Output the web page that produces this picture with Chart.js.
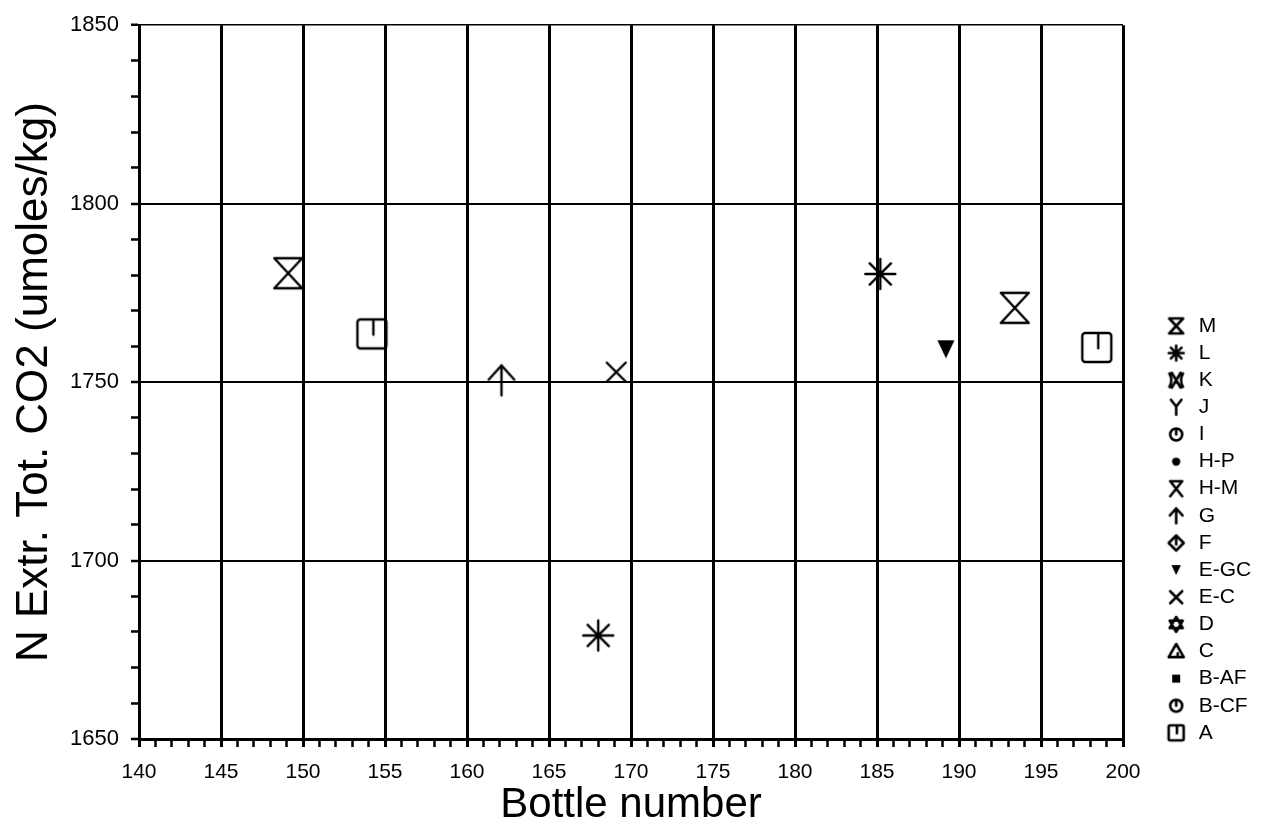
<!DOCTYPE html>
<html>
<head>
<meta charset="utf-8">
<script src="https://cdn.jsdelivr.net/npm/chart.js@4.4.0/dist/chart.umd.min.js"></script>
<style>
html, body { margin: 0; padding: 0; background: #fff; }
</style>
</head>
<body>
<canvas id="chart" width="1270" height="835"></canvas>
<script>
// key entries, top to bottom
var seriesNames = ["M", "L", "K", "J", "I", "H-P", "H-M", "G", "F", "E-GC", "E-C", "D", "C", "B-AF", "B-CF", "A"];

// values (bottle number, umoles/kg)
var bottleM = [149.1, 193.4];
var co2M = [1780.5, 1770.8];
var bottleL = [168.0, 185.2];
var co2L = [1679.0, 1780.3];
var bottleG = [162.1];
var co2G = [1750.5];
var bottleEGC = [189.2];
var co2EGC = [1759.2];
var bottleEC = [169.1];
var co2EC = [1752.8];
var bottleA = [154.2, 198.4];
var co2A = [1763.5, 1759.7];

var xTickLabels = [140, 145, 150, 155, 160, 165, 170, 175, 180, 185, 190, 195, 200];
var yTickLabels = [1650, 1700, 1750, 1800, 1850];

var seriesData = {
    "M": [bottleM, co2M],
    "L": [bottleL, co2L],
    "G": [bottleG, co2G],
    "E-GC": [bottleEGC, co2EGC],
    "E-C": [bottleEC, co2EC],
    "A": [bottleA, co2A]
};

Chart.defaults.font.family = '"Liberation Sans", Arial, sans-serif';
Chart.defaults.color = "#000";

function makeMarker(name, r, lw){
    var pad = Math.ceil(lw) + 2;
    var s = Math.ceil(2 * r + 2 * pad);
    var cv = document.createElement("canvas");
    cv.width = s;
    cv.height = s;
    var c = cv.getContext("2d");
    c.translate(s / 2, s / 2);
    c.strokeStyle = "#000";
    c.fillStyle = "#000";
    c.lineWidth = lw;
    c.lineJoin = "round";
    c.lineCap = "round";
    c.beginPath();
    switch(name){
        case "M":
            c.moveTo(-r * 0.93, -r); c.lineTo(r * 0.93, -r);
            c.lineTo(-r * 0.93, r); c.lineTo(r * 0.93, r);
            c.closePath(); c.stroke();
            break;
        case "L":
            for(var a = 0; a < 4; a++){
                var ang = a * Math.PI / 4;
                c.moveTo(-r * Math.cos(ang), -r * Math.sin(ang));
                c.lineTo(r * Math.cos(ang), r * Math.sin(ang));
            }
            c.stroke();
            break;
        case "K":
            c.moveTo(-r * 0.6, -r); c.lineTo(r * 0.6, r);
            c.moveTo(r * 0.6, -r); c.lineTo(-r * 0.6, r);
            c.moveTo(-r * 0.9, -r * 0.9); c.quadraticCurveTo(-r * 0.4, 0, -r * 0.9, r * 0.9);
            c.moveTo(r * 0.9, -r * 0.9); c.quadraticCurveTo(r * 0.4, 0, r * 0.9, r * 0.9);
            c.stroke();
            break;
        case "J":
            c.moveTo(-r * 0.7, -r); c.lineTo(0, -r * 0.1); c.lineTo(r * 0.7, -r);
            c.moveTo(0, -r * 0.1); c.lineTo(0, r);
            c.stroke();
            break;
        case "I":
        case "B-CF":
            c.arc(0, 0, r * 0.8, 0, Math.PI * 2);
            c.moveTo(0, -r * 0.8); c.lineTo(0, 0);
            c.stroke();
            break;
        case "H-P":
            c.arc(0, 0, r * 0.55, 0, Math.PI * 2);
            c.fill();
            break;
        case "H-M":
            c.moveTo(-r * 0.8, -r); c.lineTo(r * 0.8, -r);
            c.moveTo(-r * 0.8, -r); c.lineTo(r * 0.8, r);
            c.moveTo(r * 0.8, -r); c.lineTo(-r * 0.8, r);
            c.stroke();
            break;
        case "G":
            c.moveTo(-r * 0.85, -r * 0.05); c.lineTo(0, -r); c.lineTo(r * 0.85, -r * 0.05);
            c.moveTo(0, -r); c.lineTo(0, r);
            c.stroke();
            break;
        case "F":
            c.moveTo(0, -r); c.lineTo(r, 0); c.lineTo(0, r); c.lineTo(-r, 0); c.closePath();
            c.moveTo(0, -r); c.lineTo(0, r * 0.2);
            c.stroke();
            break;
        case "E-GC":
            c.moveTo(-r * 0.95, -r); c.lineTo(r * 0.95, -r); c.lineTo(0, r);
            c.closePath(); c.fill();
            break;
        case "E-C":
            c.moveTo(-r, -r); c.lineTo(r, r);
            c.moveTo(r, -r); c.lineTo(-r, r);
            c.stroke();
            break;
        case "D":
            c.moveTo(0, -r); c.lineTo(r * 0.87, r * 0.5); c.lineTo(-r * 0.87, r * 0.5); c.closePath();
            c.moveTo(0, r); c.lineTo(r * 0.87, -r * 0.5); c.lineTo(-r * 0.87, -r * 0.5); c.closePath();
            c.stroke();
            break;
        case "C":
            c.moveTo(0, -r); c.lineTo(r, r * 0.75); c.lineTo(-r, r * 0.75); c.closePath();
            c.moveTo(r * 0.2, r * 0.75); c.lineTo(r * 0.2, r * 0.25);
            c.stroke();
            break;
        case "B-AF":
            c.rect(-r * 0.5, -r * 0.5, r, r);
            c.fill();
            break;
        case "A":
            c.roundRect(-r, -r, 2 * r, 2 * r, r * 0.2);
            c.moveTo(r * 0.1, -r); c.lineTo(r * 0.1, r * 0.05);
            c.stroke();
            break;
    }
    return cv;
}

// marker sizes on the plot
var plotMarkerSize = { "M": 15, "L": 15, "G": 15, "E-GC": 9, "E-C": 9.5, "A": 14.5 };
// some key symbols are drawn smaller than the rest
var keyMarkerSize = { "E-GC": 5, "E-C": 6, "B-AF": 8 };

var keyMarkers = {};
seriesNames.forEach(function(n){ keyMarkers[n] = makeMarker(n, keyMarkerSize[n] || 7.5, 2.6); });

var datasets = seriesNames.map(function(n){
    var d = seriesData[n];
    var pts = [];
    if(d){
        for(var i = 0; i < d[0].length; i++){
            pts.push({ x: d[0][i], y: d[1][i] });
        }
    }
    return {
        label: n,
        data: pts,
        showLine: false,
        pointStyle: d ? makeMarker(n, plotMarkerSize[n], 2.4) : "circle",
        pointRadius: 15,
        pointHoverRadius: 15,
        borderColor: "#000",
        backgroundColor: "#000"
    };
});

// place the key to the right of the plot
var keyBoxWidth = 147;
var keyShiftX = 35;
var keyShiftY = 10.5;
var keyPlacement = {
    id: "keyPlacement",
    beforeLayout: function(chart){
        var lg = chart.legend;
        if(lg && !lg._fitPatched){
            var fit = lg.fit;
            lg.fit = function(){
                fit.call(this);
                this.width = keyBoxWidth;
            };
            lg._fitPatched = true;
        }
    },
    afterLayout: function(chart){
        var lg = chart.legend;
        lg.left += keyShiftX; lg.right += keyShiftX;
        lg.top += keyShiftY; lg.bottom += keyShiftY;
    }
};

function isMajor(v, step){
    return Math.abs(Math.round(v) % step) === 0;
}

var chart = new Chart(document.getElementById("chart"), {
    type: "scatter",
    data: { datasets: datasets },
    plugins: [keyPlacement],
    options: {
        responsive: false,
        devicePixelRatio: 1,
        animation: false,
        layout: { padding: { top: 20, left: 0, right: 0, bottom: 0 } },
        plugins: {
            tooltip: { enabled: false },
            legend: {
                position: "right",
                align: "end",
                fullSize: false,
                labels: {
                    usePointStyle: true,
                    pointStyleWidth: 24,
                    boxWidth: 24,
                    padding: 6.13,
                    color: "#000",
                    font: { size: 21 },
                    generateLabels: function(chart){
                        return seriesNames.map(function(n, i){
                            return {
                                text: n,
                                pointStyle: keyMarkers[n],
                                fillStyle: "#000",
                                strokeStyle: "#000",
                                lineWidth: 0,
                                hidden: false,
                                datasetIndex: i,
                                fontColor: "#000"
                            };
                        });
                    }
                }
            }
        },
        scales: {
            x: {
                type: "linear",
                min: 140,
                max: 200,
                afterFit: function(s){ s.height = 96; },
                ticks: {
                    stepSize: 1,
                    autoSkip: false,
                    maxRotation: 0,
                    padding: 13,
                    font: { size: 21 },
                    color: "#000",
                    callback: function(v){
                        return xTickLabels.indexOf(Math.round(v)) >= 0 && isMajor(v, 5) ? String(Math.round(v)) : "";
                    }
                },
                grid: {
                    drawTicks: true,
                    tickLength: 8,
                    color: function(ctx){ return ctx.tick && isMajor(ctx.tick.value, 5) ? "#000" : "rgba(0,0,0,0)"; },
                    lineWidth: function(ctx){ return ctx.tick && isMajor(ctx.tick.value, 5) ? 3 : 1; },
                    tickColor: "#000",
                    tickWidth: function(ctx){ return ctx.tick && isMajor(ctx.tick.value, 5) ? 3 : 2.5; }
                },
                border: { display: true, color: "#000", width: 3 },
                title: {
                    display: true,
                    text: "Bottle number",
                    color: "#000",
                    font: { size: 42, lineHeight: 1 },
                    padding: { top: 0, bottom: 9 }
                }
            },
            y: {
                type: "linear",
                min: 1650,
                max: 1850,
                afterFit: function(s){ s.width = 139; },
                ticks: {
                    stepSize: 10,
                    autoSkip: false,
                    padding: 12,
                    font: { size: 22 },
                    color: "#000",
                    callback: function(v){
                        return yTickLabels.indexOf(Math.round(v)) >= 0 ? String(Math.round(v)) : "";
                    }
                },
                grid: {
                    drawTicks: true,
                    tickLength: 8,
                    color: function(ctx){ return ctx.tick && isMajor(ctx.tick.value, 50) ? "#000" : "rgba(0,0,0,0)"; },
                    lineWidth: function(ctx){
                        if(!ctx.tick) return 1;
                        if(Math.round(ctx.tick.value) === 1850) return 1.5;
                        return isMajor(ctx.tick.value, 50) ? 2 : 1;
                    },
                    tickColor: "#000",
                    tickWidth: 2.5
                },
                border: { display: true, color: "#000", width: 3 },
                title: {
                    display: true,
                    text: "N Extr. Tot. CO2 (umoles/kg)",
                    color: "#000",
                    font: { size: 44, lineHeight: 1 },
                    padding: { top: 13, bottom: 0 }
                }
            }
        }
    }
});
</script>
</body>
</html>
